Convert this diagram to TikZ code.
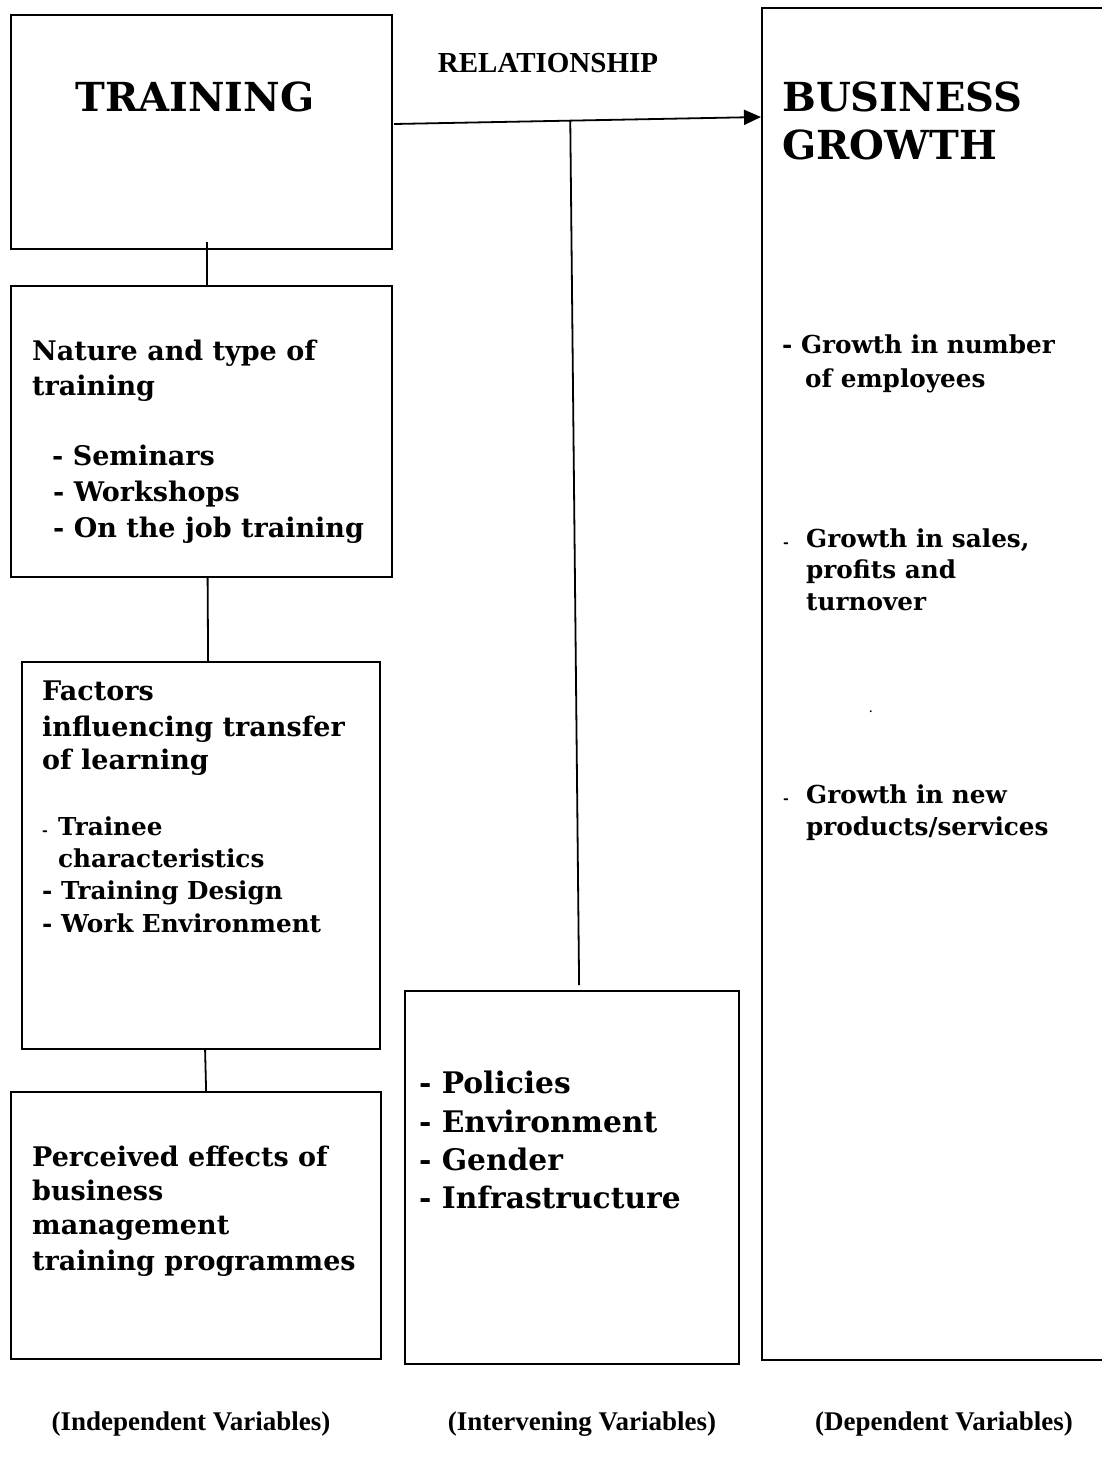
\documentclass[tikz,border=0pt]{standalone}
\usepackage{fontspec}
\setmainfont{DejaVu Serif}
\newfontfamily\timesfont{Liberation Serif}
\usetikzlibrary{arrows.meta,calc}
\begin{document}
\begin{tikzpicture}[x=1pt,y=-1pt,
  box/.style={draw, line width=2.2pt, inner sep=0pt, anchor=north west},
  conn/.style={line width=1.8pt},
  big/.style={inner sep=0pt, font=\bfseries\fontsize{40}{48}\selectfont},
  txt/.style={inner sep=0pt, anchor=base west, font=\bfseries\fontsize{27}{32}\selectfont},
  stxt/.style={inner sep=0pt, anchor=base west, font=\bfseries\fontsize{24.7}{30}\selectfont},
  itxt/.style={inner sep=0pt, anchor=base west, font=\bfseries\fontsize{29.7}{34}\selectfont},
  sdash/.style={inner sep=0pt, anchor=base west, font=\bfseries\fontsize{14}{16}\selectfont},
  lbl/.style={inner sep=0pt, anchor=base, font=\timesfont\bfseries\fontsize{27}{32}\selectfont}]
\useasboundingbox (0,0) rectangle (1101,1466);
% boxes
\node[box, minimum width=381pt, minimum height=234pt] (train) at (10,14) {};
\node[box, minimum width=381pt, minimum height=291pt] (nature) at (10,285) {};
\node[box, minimum width=358pt, minimum height=387pt] (factors) at (21,661) {};
\node[box, minimum width=370pt, minimum height=267pt] (perc) at (10,1091) {};
\node[box, minimum width=334pt, minimum height=373pt] (inter) at (404,990) {};
\node[box, minimum width=346pt, minimum height=1352pt] (bus) at (761,7) {};
% connectors
\draw[conn] ([xshift=5pt,yshift=8pt]train.south) -- ([xshift=5pt]nature.north);
\draw[conn] ([xshift=6pt]nature.south) -- ([xshift=7pt]factors.north);
\draw[conn] ([xshift=4pt]factors.south) -- ([xshift=10pt]perc.north);
\coordinate (a0) at ($(train.north east)+(1,110)$);
\coordinate (a1) at ($(bus.north west)+(0,110)$);
\draw[conn, -{Triangle[length=17pt,width=15pt]}] (a0) -- (a1);
\coordinate (j) at ($(a0)!0.48!(a1)$);
\draw[conn] (j) -- ($(inter.north)+(7,-5)$);
% titles
\node[big, anchor=base] (ttrain) at (195,112) {TRAINING};
\node[big, anchor=base west] (tbus1) at (782,112) {BUSINESS};
\node[big, anchor=base west] (tbus2) at (782,160) {GROWTH};
\node[lbl, font=\timesfont\bfseries\fontsize{29}{32}\selectfont] (rel) at (548,73) {RELATIONSHIP};
% nature
\node[txt] (n1) at (32,360) {Nature and type of};
\node[txt] (n2) at (32,395) {training};
\node[txt] (n3) at (52,465) {- Seminars};
\node[txt] (n4) at (53,501) {- Workshops};
\node[txt] (n5) at (53,537) {- On the job training};
% factors
\node[txt] (f1) at (42,700) {Factors};
\node[txt] (f2) at (42,736) {influencing transfer};
\node[txt] (f3) at (42,769) {of learning};
\node[sdash] (f4d) at (42,835) {-};
\node[stxt] (f4) at (58,835) {Trainee};
\node[stxt] (f5) at (58,867) {characteristics};
\node[stxt] (f6) at (42,899) {- Training Design};
\node[stxt] (f7) at (42,932) {- Work Environment};
% perceived
\node[txt] (p1) at (32,1166) {Perceived effects of};
\node[txt] (p2) at (32,1200) {business};
\node[txt] (p3) at (32,1234) {management};
\node[txt] (p4) at (32,1270) {training programmes};
% intervening
\node[itxt] (i1) at (419,1093) {- Policies};
\node[itxt] (i2) at (419,1132) {- Environment};
\node[itxt] (i3) at (419,1170) {- Gender};
\node[itxt] (i4) at (419,1208) {- Infrastructure};
% business growth
\node[stxt] (b1) at (782,353) {- Growth in number};
\node[stxt] (b2) at (805,387) {of employees};
\node[sdash] (b3d) at (783,547) {-};
\node[stxt] (b3) at (806,547) {Growth in sales,};
\node[stxt] (b4) at (806,578) {profits and};
\node[stxt] (b5) at (806,610) {turnover};
\node[sdash, font=\bfseries\fontsize{10}{12}\selectfont] (dot) at (869,712) {.};
\node[sdash] (b6d) at (783,803) {-};
\node[stxt] (b6) at (806,803) {Growth in new};
\node[stxt] (b7) at (806,835) {products/services};
% bottom labels
\node[lbl] (l1) at (191,1430) {(Independent Variables)};
\node[lbl] (l2) at (582,1430) {(Intervening Variables)};
\node[lbl] (l3) at (944,1430) {(Dependent Variables)};
\end{tikzpicture}
\end{document}
